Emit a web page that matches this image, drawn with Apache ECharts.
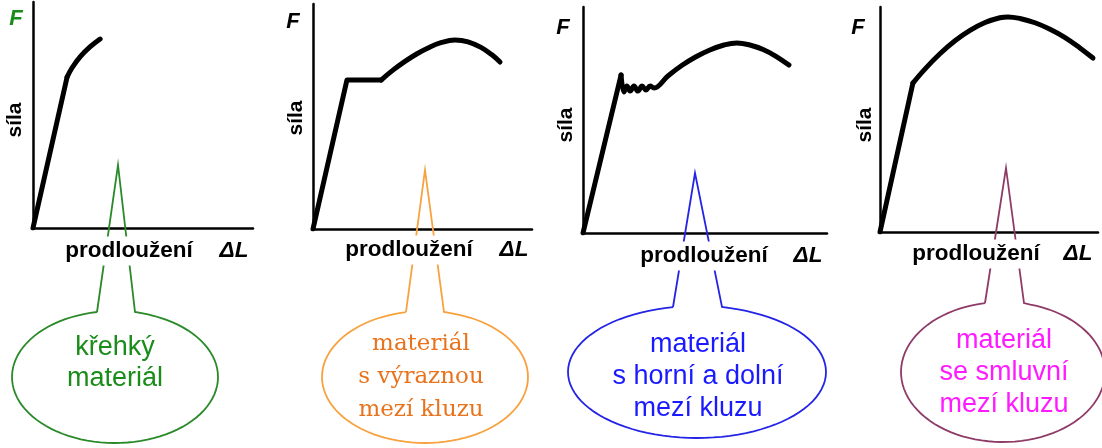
<!DOCTYPE html>
<html>
<head>
<meta charset="utf-8">
<script src="https://cdn.jsdelivr.net/npm/echarts@6/dist/echarts.min.js"></script>
<style>
  html, body { margin: 0; background: #fff; }
  #main { width: 1102px; height: 448px; }
</style>
</head>
<body>
<div id="main"></div>
<script>
// pracovní diagramy F – ΔL, obě osy v relativních jednotkách 0–100
// 1) křehký materiál
var brittleLinear = [[0, 0], [15.5, 66.8]];
var brittleCurve  = [[15.5, 66.8], [17.7, 70.8], [21.4, 75.7], [25.9, 80.1], [30.5, 83.6]];
// 2) výrazná mez kluzu
var yieldLinear = [[0, 0], [15.5, 66.2], [31.1, 66.2]];
var yieldCurve  = [[31.1, 66.2], [36.5, 70.6], [42.0, 74.5], [47.5, 77.9], [53.0, 80.7], [58.4, 82.8], [64.8, 84.0],
                   [70.8, 83.2], [76.7, 80.7], [81.7, 77.4], [85.4, 74.2]];
// 3) horní a dolní mez kluzu
var upperLinear = [[0, 0], [15.6, 69.9]];
var upperCurve  = [[15.6, 69.9], [16.8, 62.4], [18.0, 65.0], [19.3, 62.8], [20.9, 65.0], [22.5, 62.8], [24.2, 65.0],
                   [25.8, 63.3], [27.5, 65.0], [29.1, 64.2], [34.8, 69.5], [40.6, 74.2], [46.3, 78.0], [52.0, 81.0],
                   [57.8, 83.2], [63.1, 84.1], [68.4, 83.2], [73.8, 81.2], [79.1, 78.2], [84.4, 74.3]];
// 4) smluvní mez kluzu
var proofLinear = [[0, 0], [15.1, 66.2]];
var proofCurve  = [[15.1, 66.2], [20.6, 72.4], [27.5, 79.2], [34.4, 85.0], [41.3, 89.6], [48.2, 93.1], [55.0, 95.2],
                   [58.7, 95.6], [64.2, 94.9], [71.1, 93.0], [78.0, 90.1], [84.9, 86.4], [91.7, 81.8], [97.7, 77.3]];

var calloutTexts = ['křehký\nmateriál', 'materiál\ns výraznou\nmezí kluzu', 'materiál\ns horní a dolní\nmezí kluzu', 'materiál\nse smluvní\nmezí kluzu'];

var panels = [
  { grid: { left: 33,  top: 2, width: 220, height: 226 }, lin: brittleLinear, cur: brittleCurve,
    F: [16, 19], FColor: '#1a8c1a', sila: [15, 120], prod: [129, 251], dl: [234, 251],
    tip: [118, 165], jl: [97, 312], jr: [135, 312], rx: 103, ry: 66, c: [115, 377], stroke: '#2a8a2a',
    tColor: '#1a8c1a', tFont: '"Liberation Sans", Arial, sans-serif', tSize: 27, tc: [115, 363], lh: 31 },
  { grid: { left: 313, top: 4, width: 219, height: 225 }, lin: yieldLinear, cur: yieldCurve,
    F: [293, 22], FColor: '#000', sila: [296, 118], prod: [409, 250], dl: [514, 250],
    tip: [425, 170], jl: [406, 312], jr: [444, 312], rx: 103, ry: 66, c: [425, 377], stroke: '#f7a23e',
    tColor: '#e8731c', tFont: '"DejaVu Serif", serif', tSize: 23, tc: [421, 377], lh: 33 },
  { grid: { left: 583, top: 7, width: 244, height: 226 }, lin: upperLinear, cur: upperCurve,
    F: [563, 28], FColor: '#000', sila: [566, 125], prod: [704, 256], dl: [808, 256],
    tip: [695, 173], jl: [673, 307], jr: [722, 307], rx: 129, ry: 66, c: [697, 372], stroke: '#2424e6',
    tColor: '#1a1aff', tFont: '"Liberation Sans", Arial, sans-serif', tSize: 27, tc: [698, 377], lh: 32 },
  { grid: { left: 880, top: 7, width: 218, height: 225 }, lin: proofLinear, cur: proofCurve,
    F: [858, 28], FColor: '#000', sila: [865, 125], prod: [976, 254], dl: [1078, 254],
    tip: [1006, 168], jl: [985, 303], jr: [1024, 303], rx: 102, ry: 70, c: [1003, 372], stroke: '#8e3b68',
    tColor: '#ff1aff', tFont: '"Liberation Sans", Arial, sans-serif', tSize: 27, tc: [1004, 373], lh: 32 }
];

// obrys bubliny: levý spoj -> hrot -> pravý spoj -> oblouk elipsy zpět k levému spoji
function bubblePoints(p) {
  var pts = [p.jl, p.tip, p.jr];
  var tR = Math.atan2((p.jr[1] - p.c[1]) / p.ry, (p.jr[0] - p.c[0]) / p.rx);
  var tL = Math.atan2((p.jl[1] - p.c[1]) / p.ry, (p.jl[0] - p.c[0]) / p.rx) + Math.PI * 2;
  var n = 90;
  for (var k = 1; k <= n; k++) {
    var t = tR + (tL - tR) * k / n;
    pts.push([p.c[0] + p.rx * Math.cos(t), p.c[1] + p.ry * Math.sin(t)]);
  }
  return pts;
}

var grids = [], xAxes = [], yAxes = [], series = [], graphics = [];
var axisCommon = {
  type: 'value', min: 0, max: 100,
  axisLine: { show: true, onZero: false, lineStyle: { color: '#000', width: 2.5 } },
  axisTick: { show: false }, axisLabel: { show: false }, splitLine: { show: false }
};
var curveStyle = { color: '#000', width: 5, cap: 'round', join: 'round' };

panels.forEach(function (p, i) {
  grids.push(p.grid);
  xAxes.push(Object.assign({ gridIndex: i }, axisCommon));
  yAxes.push(Object.assign({ gridIndex: i }, axisCommon));
  series.push({ type: 'line', xAxisIndex: i, yAxisIndex: i, data: p.lin, showSymbol: false,
    lineStyle: curveStyle, silent: true });
  series.push({ type: 'line', xAxisIndex: i, yAxisIndex: i, data: p.cur, showSymbol: false, smooth: 0.4,
    lineStyle: curveStyle, silent: true });

  graphics.push({ type: 'polyline', z: 5, shape: { points: bubblePoints(p) },
    style: { fill: null, stroke: p.stroke, lineWidth: 1.8 } });
  graphics.push({ type: 'text', z: 12, x: p.tc[0], y: p.tc[1],
    style: { text: calloutTexts[i], fill: p.tColor, font: p.tSize + 'px ' + p.tFont,
      lineHeight: p.lh, align: 'center', verticalAlign: 'middle' } });

  // popisky os
  graphics.push({ type: 'text', z: 12, x: p.F[0], y: p.F[1],
    style: { text: 'F', fill: p.FColor, font: 'italic bold 22px "Liberation Sans", Arial, sans-serif',
      align: 'center', verticalAlign: 'middle' } });
  graphics.push({ type: 'text', z: 12, x: p.sila[0], y: p.sila[1], rotation: Math.PI / 2,
    style: { text: 'síla', fill: '#000', font: 'bold 21px "Liberation Sans", Arial, sans-serif',
      align: 'center', verticalAlign: 'middle' } });
  graphics.push({ type: 'text', z: 12, x: p.prod[0], y: p.prod[1],
    style: { text: 'prodloužení', fill: '#000', font: 'bold 22.5px "Liberation Sans", Arial, sans-serif',
      align: 'center', verticalAlign: 'middle', backgroundColor: '#fff', padding: [3, 6] } });
  graphics.push({ type: 'text', z: 12, x: p.dl[0], y: p.dl[1],
    style: { text: 'ΔL', fill: '#000', font: 'italic bold 22.5px "Liberation Sans", Arial, sans-serif',
      align: 'center', verticalAlign: 'middle' } });
});

var chart = echarts.init(document.getElementById('main'), null, { renderer: 'canvas' });
chart.setOption({
  animation: false,
  backgroundColor: '#fff',
  grid: grids,
  xAxis: xAxes,
  yAxis: yAxes,
  series: series,
  graphic: graphics
});
</script>
</body>
</html>
